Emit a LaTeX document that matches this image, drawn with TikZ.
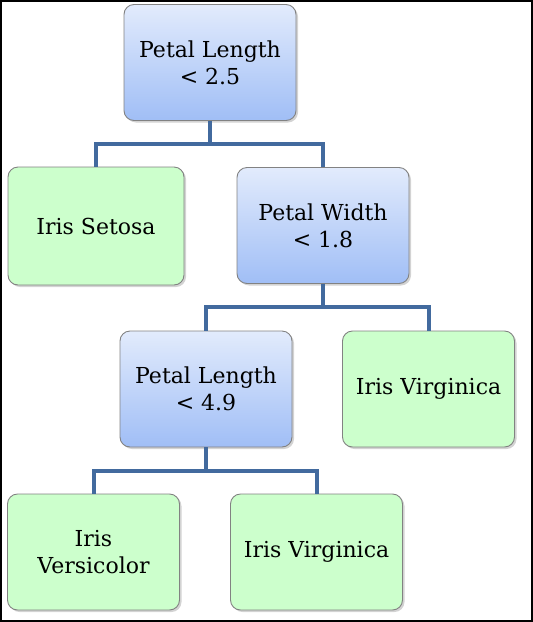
\documentclass[tikz,border=0pt]{standalone}
\usepackage{fontspec}
\setmainfont{DejaVu Serif}
\usepackage{tikz}
\usetikzlibrary{shadows}

\definecolor{linkblue}{RGB}{66,106,158}
\definecolor{boxtop}{RGB}{226,235,252}
\definecolor{boxbot}{RGB}{160,190,246}
\definecolor{leafgreen}{RGB}{204,255,204}
\definecolor{rim}{RGB}{130,130,130}

\begin{document}
\begin{tikzpicture}[x=1pt,y=-1pt,
    box/.style={draw=rim, line width=0.9pt, rounded corners=10pt,
      minimum width=172pt, minimum height=116pt, inner sep=0pt,
      align=center, font=\fontsize{22}{27}\selectfont,
      drop shadow={opacity=0.35, shadow xshift=2pt, shadow yshift=-2pt}},
    test/.style={box, top color=boxtop, bottom color=boxbot},
    leaf/.style={box, fill=leafgreen},
    link/.style={draw=linkblue, line width=4pt}]
    \useasboundingbox (0,0) rectangle (533,622);
    \draw[line width=2pt] (1,1) rectangle (532,621);
    % tests
    \node[test] (pl1) at (210,62.5) {Petal Length\\< 2.5};
    \node[test] (pw) at (323,225.5) {Petal Width\\< 1.8};
    \node[test] (pl2) at (206,389) {Petal Length\\< 4.9};
    % leaves
    \node[leaf, minimum width=176pt, minimum height=118pt] (set) at (96,226) {Iris Setosa};
    \node[leaf] (vir1) at (428.5,389) {Iris Virginica};
    \node[leaf] (ver) at (93.5,552) {Iris\\Versicolor};
    \node[leaf] (vir2) at (316.5,552) {Iris Virginica};
    % links
    \draw[link] (pl1.south) -- ++(0,23.5) -| (set.north);
    \draw[link] (pl1.south) -- ++(0,23.5) -| (pw.north);
    \draw[link] (pw.south) -- ++(0,23.5) -| (pl2.north);
    \draw[link] (pw.south) -- ++(0,23.5) -| (vir1.north);
    \draw[link] (pl2.south) -- ++(0,23.5) -| (ver.north);
    \draw[link] (pl2.south) -- ++(0,23.5) -| (vir2.north);
\end{tikzpicture}
\end{document}
